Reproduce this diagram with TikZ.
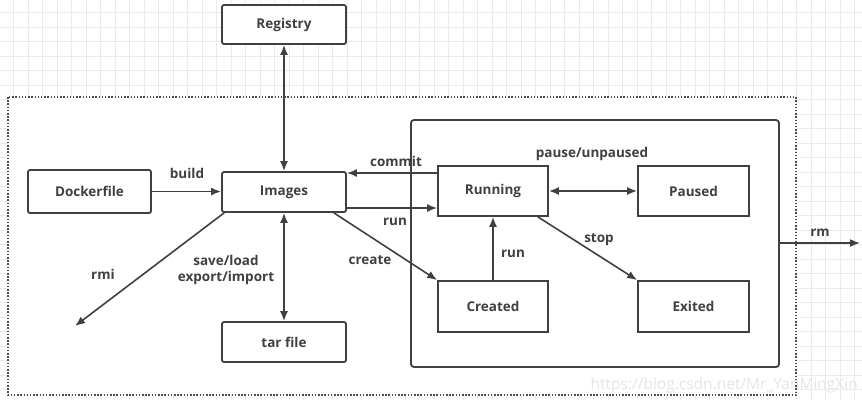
\documentclass[tikz,border=0pt]{standalone}
\usepackage{fontspec}
\setsansfont{Open Sans}
\usetikzlibrary{arrows.meta}
\tikzset{
  box/.style={draw=black!75, line width=1.8pt, rounded corners=2pt, fill=white,
    minimum width=124pt, minimum height=40pt, inner sep=0pt},
  state/.style={draw=black!75, line width=1.8pt, fill=white,
    minimum width=110pt, minimum height=50pt, inner sep=0pt},
  link/.style={draw=black!75, line width=1.6pt, -{Latex[length=10pt,width=8pt]}},
  both/.style={link, {Latex[length=10pt,width=8pt]}-{Latex[length=10pt,width=8pt]}},
  lbl/.style={inner sep=0pt, text=black!75},
  every node/.style={font=\sffamily\bfseries\fontsize{13.5}{15.5}\selectfont, text=black!75}
}
\begin{document}
\begin{tikzpicture}[x=1pt,y=-1pt]
\useasboundingbox (0,0) rectangle (862,400);
% background grid
\foreach \i in {0,...,59} \draw[black!8, line width=0.8pt] (13.5+14.5*\i,0) -- ++(0,400);
\foreach \i in {0,...,27} \draw[black!8, line width=0.8pt] (0,12.5+14.5*\i) -- ++(862,0);
% dotted frame
\draw[black!70, line width=1.5pt, dash pattern=on 1.5pt off 1.7pt, fill=white] (8,97) rectangle (796,395);
% watermark
\node[anchor=east, inner sep=0pt, text=black!10, font=\sffamily\fontsize{15.5}{17}\selectfont] (mark) at (858,385) {https://blog.csdn.net/Mr\_YanMingXin};
% container
\node[draw=black!75, line width=1.8pt, rounded corners=3pt, minimum width=368pt, minimum height=247pt] (container) at (595,243.5) {};
% nodes
\node[box, minimum height=39pt] (registry) at (284,24.5) {Registry};
\node[box, minimum width=123pt, minimum height=43pt] (dockerfile) at (89.5,191.5) {Dockerfile};
\node[box] (images) at (284,192) {Images};
\node[box] (tarfile) at (284,342) {tar file};
\node[state] (running) at (493,191) {Running};
\node[state, minimum width=111pt] (paused) at (693.5,191) {Paused};
\node[state, minimum height=51pt] (created) at (493,306.5) {Created};
\node[state, minimum width=111pt, minimum height=51pt] (exited) at (693.5,306.5) {Exited};
\coordinate (rmiend) at (75,326);
\coordinate (rmend) at (860,243);
% connectors
\draw[both] (registry) -- (images);
\draw[both] (images) -- (tarfile);
\draw[link] (dockerfile) -- (images.west |- dockerfile);
\draw[link] (running.west |- 0,173) -- (images.east |- 0,173);
\draw[link] (images.east |- 0,208) -- (running.west |- 0,208);
\draw[link] ([xshift=-13pt]images.south east) -- (created.north west);
\draw[link] (created) -- (running);
\draw[both] (running) -- (paused);
\draw[link] ([xshift=-11pt]running.south east) -- (exited.north west);
\draw[link] ([xshift=3pt]images.south west) -- (rmiend);
\draw[link] (container.east |- rmend) -- (rmend);
% labels
\node[lbl] (buildlbl) at (187,173) {build};
\node[lbl] (commitlbl) at (396,161) {commit};
\node[lbl] (runlbl) at (395,222) {run};
\node[lbl] (createlbl) at (370,260) {create};
\node[lbl] (startlbl) at (513,254) {run};
\node[lbl] (pauselbl) at (592,154) {pause/unpaused};
\node[lbl] (stoplbl) at (599,240) {stop};
\node[lbl] (rmlbl) at (820,233) {rm};
\node[lbl] (rmilbl) at (103,274) {rmi};
\node[lbl, align=center] (savelbl) at (226,270) {save/load\\export/import};
\end{tikzpicture}
\end{document}
